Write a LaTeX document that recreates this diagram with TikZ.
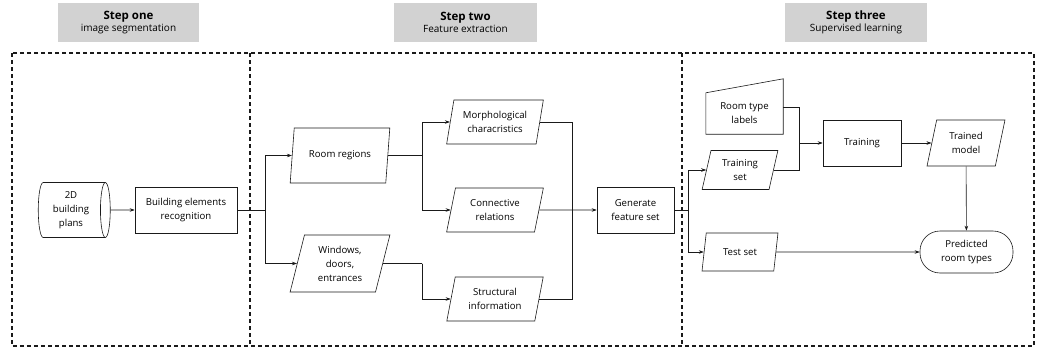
\documentclass[tikz,border=0pt]{standalone}
\usepackage{fontspec}
\setmainfont{Open Sans}
\usetikzlibrary{shapes.geometric,arrows.meta,calc}
\definecolor{sblack}{HTML}{1A1A1A}
\definecolor{sgray}{HTML}{D2D2D2}

\begin{document}
\begin{tikzpicture}[x=1pt, y=-1pt,
		font=\fontsize{9.6}{14}\selectfont,
		every node/.style={align=center, inner sep=1pt},
		head/.style={fill=sgray, minimum height=39pt, font=\fontsize{10}{12.5}\selectfont},
		frame/.style={draw=sblack, line width=1.1pt, dash pattern=on 4pt off 3pt},
		box/.style={draw=sblack, line width=0.6pt, minimum width=102pt, minimum height=46pt},
		para/.style={draw=sblack, line width=0.6pt, trapezium, trapezium left angle=76,
			trapezium right angle=104, trapezium stretches=true, minimum width=100pt, minimum height=44pt},
		wire/.style={draw=sblack, line width=0.6pt},
		link/.style={wire, -{Stealth[length=5pt, width=3.5pt]}}]
		\useasboundingbox (0,0) rectangle (1037,348);
		% step headers
		\node[head, minimum width=141pt] (h1) at (128.5,22.5) {{\fontsize{11.5}{12.5}\selectfont\bfseries Step one}\\image segmentation};
		\node[head, minimum width=143pt] (h2) at (465.5,22.5) {{\fontsize{11.5}{12.5}\selectfont\bfseries Step two}\\Feature extraction};
		\node[head, minimum width=142pt] (h3) at (856,22.5) {{\fontsize{11.5}{12.5}\selectfont\bfseries Step three}\\Supervised learning};
		% dashed frames
		\draw[frame] (12,53) rectangle (1034,346);
		\draw[frame] (250,53) -- (250,346);
		\draw[frame] (682,53) -- (682,346);
		% step one
		\node[cylinder, draw=sblack, line width=0.6pt, aspect=0.25, minimum width=55pt, minimum height=72pt] (plans) at (71,210) {2D\\building\\plans};
		\node[box] (recog) at (186,210) {Building elements\\recognition};
		% step two
		\node[para, minimum height=55pt] (rooms) at (340,155.5) {Room regions};
		\node[para, minimum height=57pt] (openings) at (340,263.5) {Windows,\\doors,\\entrances};
		\node[para, minimum width=97pt] (morph) at (495,122) {Morphological\\characristics};
		\node[para, minimum width=97pt] (conn) at (495,210) {Connective\\relations};
		\node[para, minimum width=97pt] (struct) at (495,299) {Structural\\information};
		\node[box, minimum width=77pt] (gen) at (635.5,210) {Generate\\feature set};
		% step three
		\node[minimum width=77pt, minimum height=41pt] (labels) at (744.5,113.5) {Room type\\labels};
		\draw[wire] (labels.south west) -- (labels.south east) -- ([yshift=14pt]labels.north east)
			-- (labels.north west) -- cycle;
		\node[para, minimum width=76pt, minimum height=39pt] (trainset) at (740,170) {Training\\set};
		\node[para, minimum width=76pt, minimum height=38pt] (testset) at (740,252) {Test set};
		\node[box, minimum width=78pt] (train) at (862,143) {Training};
		\node[para, minimum width=78pt, minimum height=46pt] (model) at (966,143) {Trained\\model};
		\node[draw=sblack, line width=0.6pt, rounded corners=20pt, minimum width=93pt, minimum height=42pt] (pred) at (966.5,252) {Predicted\\room types};
		% connectors
		\coordinate (j1) at (265,210);
		\coordinate (j2) at (422,155.5);
		\coordinate (j3) at (422,263.5);
		\coordinate (j4) at (572,210);
		\coordinate (j5) at (688,210);
		\coordinate (j6) at (799,143);
		\draw[link] (plans) -- (recog);
		\draw[wire] (recog) -- (j1);
		\draw[link] (j1) |- (rooms.west);
		\draw[link] (j1) |- (openings.west);
		\draw[wire] (rooms.east) -- (j2);
		\draw[link] (j2) |- (morph.west);
		\draw[link] (j2) |- (conn.west);
		\draw[wire] (openings.east) -- (j3);
		\draw[link] (j3) |- (struct.west);
		\draw[wire] (morph.east) -| (j4);
		\draw[wire] (struct.east) -| (j4);
		\draw[link] (conn.east) -- (gen);
		\draw[wire] (gen) -- (j5);
		\draw[link] (j5) |- (trainset.west);
		\draw[link] (j5) |- (testset.west);
		\draw[wire] ([yshift=6pt]labels.east) -| (j6);
		\draw[wire] (trainset.east) -| (j6);
		\draw[link] (j6) -- (train);
		\draw[link] (train) -- (model);
		\draw[link] (model) -- (pred);
		\draw[link] (testset.east) -- (pred.west);
	\end{tikzpicture}
\end{document}
